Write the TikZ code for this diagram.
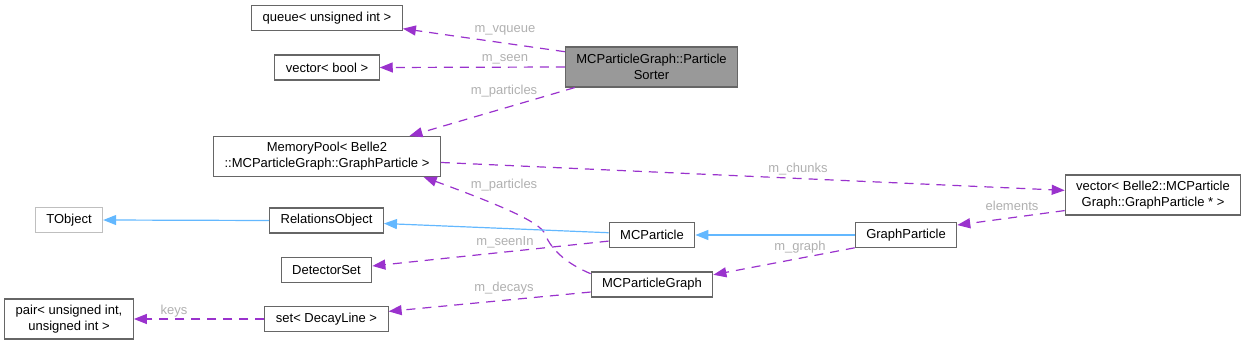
\documentclass[tikz,border=0pt]{standalone}
\usepackage{fontspec}
\setmainfont{Liberation Sans}
\usetikzlibrary{arrows.meta}
\usepackage{xcolor}
\definecolor{BoxGrey}{HTML}{666666}
\definecolor{LightGrey}{HTML}{BFBFBF}
\definecolor{SorterFill}{HTML}{999999}
\definecolor{LabelGrey}{HTML}{B0B0B0}
\definecolor{Orchid}{HTML}{9A32CD}
\definecolor{SteelBlue}{HTML}{63B8FF}

\begin{document}
\begin{tikzpicture}[x=1pt, y=-1pt,
  every node/.style={font=\fontsize{13}{16}\selectfont},
  box/.style={draw=BoxGrey, line width=1.1pt, fill=white, minimum height=25pt, inner xsep=11pt, align=center},
  twoline/.style={minimum height=40pt},
  lbl/.style={text=LabelGrey, inner sep=0pt},
  member/.style={draw=Orchid, line width=1.2pt, dash pattern=on 9pt off 7pt, -{Triangle[length=13pt, width=10pt]}},
  derived/.style={draw=SteelBlue, line width=1.2pt, -{Triangle[length=13pt, width=10pt]}}]
\useasboundingbox (0,0) rectangle (1245,345);
\node[box] (queue) at (327,18) {queue< unsigned int >};
\node[box] (vecbool) at (327,67.5) {vector< bool >};
\node[box, twoline, fill=SorterFill] (sorter) at (651.5,67) {MCParticleGraph::Particle\\Sorter};
\node[box, twoline] (pool) at (327,156.5) {MemoryPool< Belle2\\::MCParticleGraph::GraphParticle >};
\node[box, draw=LightGrey] (tobject) at (69,220) {TObject};
\node[box] (relobj) at (326.5,220.5) {RelationsObject};
\node[box] (detset) at (326.5,270) {DetectorSet};
\node[box, twoline] (pair) at (69,319) {pair< unsigned int,\\unsigned int >};
\node[box] (decayset) at (326.5,319) {set< DecayLine >};
\node[box] (mcpart) at (652,235) {MCParticle};
\node[box] (mcgraph) at (652,284.5) {MCParticleGraph};
\node[box] (graphpart) at (906,235) {GraphParticle};
\node[box, twoline] (vecgp) at (1153,195) {vector< Belle2::MCParticle\\Graph::GraphParticle * >};
\draw[member] (sorter.170) -- (queue.-8);
\draw[member] (sorter.west) -- (vecbool.east);
\draw[member] (sorter.195) -- (pool.14);
\draw[member] (pool.-3) -- (vecgp.177);
\coordinate (bend) at (545,234);
\draw[member] (mcgraph.170) .. controls (570,265) and (552,252) .. (bend) .. controls (540,222) and (500,205) .. (pool.-12);
\draw[derived] (relobj.west) -- (tobject.east);
\draw[derived] (mcpart.177) -- (relobj.-3);
\draw[member] (mcpart.188) -- (detset.5);
\draw[derived] (graphpart.west) -- (mcpart.east);
\draw[member] (vecgp.190) -- (graphpart.11);
\draw[member] (graphpart.194) -- (mcgraph.9);
\draw[member] (mcgraph.187) -- (decayset.7);
\draw[member] (decayset.west) -- (pair.east);
\node[lbl] (l_vqueue) at (505,30) {m\_vqueue};
\node[lbl] (l_seen) at (505,59) {m\_seen};
\node[lbl] (l_particles) at (504,91) {m\_particles};
\node[lbl] (l_particles2) at (504,185) {m\_particles};
\node[lbl] (l_chunks) at (798,169) {m\_chunks};
\node[lbl] (l_elements) at (1012,206) {elements};
\node[lbl] (l_graph) at (800,247) {m\_graph};
\node[lbl] (l_seenin) at (505,242) {m\_seenIn};
\node[lbl] (l_decays) at (504,288) {m\_decays};
\node[lbl] (l_keys) at (174,311) {keys};
\end{tikzpicture}
\end{document}
